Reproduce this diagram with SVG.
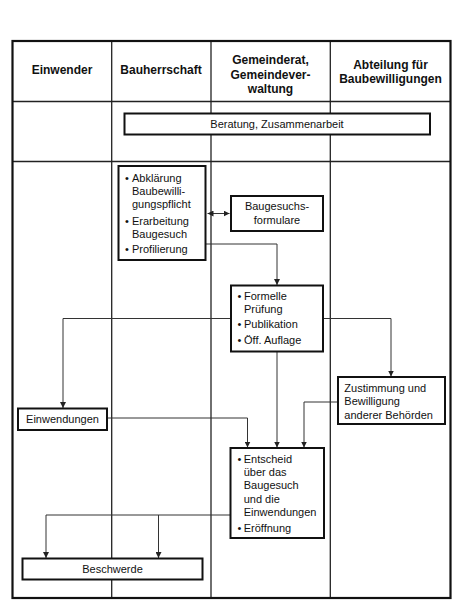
<svg xmlns="http://www.w3.org/2000/svg" width="462" height="616" viewBox="0 0 462 616">
<style>
text{font-family:"Liberation Sans",Arial,sans-serif;font-size:11px;fill:#111}
.h{font-weight:bold;font-size:12px;text-anchor:middle}
.c{text-anchor:middle}
.box{fill:#fff;stroke:#111;stroke-width:2}
.grid{stroke:#222;stroke-width:1.3;fill:none}
.con{fill:none;stroke:#333;stroke-width:1}
</style>
<defs>
<marker id="ah" markerWidth="6" markerHeight="6" refX="6" refY="3" orient="auto-start-reverse" markerUnits="userSpaceOnUse">
<path d="M0,0 L6,3 L0,6 z" fill="#222"/>
</marker>
</defs>
<rect width="462" height="616" fill="#fff"/>
<g id="grid">
<line class="grid" x1="12.5" y1="101.5" x2="450.5" y2="101.5"/>
<line class="grid" x1="12.5" y1="161.5" x2="450.5" y2="161.5"/>
<line class="grid" x1="111.7" y1="41" x2="111.7" y2="598"/>
<line class="grid" x1="211" y1="41" x2="211" y2="598" stroke-width="2"/>
<line class="grid" x1="330.3" y1="41" x2="330.3" y2="598"/>
<rect x="12.5" y="41" width="438" height="557" fill="none" stroke="#111" stroke-width="2.2"/>
<text class="h" x="62" y="74">Einwender</text>
<text class="h" x="161" y="74">Bauherrschaft</text>
<text class="h" x="270.5" y="64">Gemeinderat,</text>
<text class="h" x="270.5" y="78.5">Gemeindever-</text>
<text class="h" x="270.5" y="93">waltung</text>
<text class="h" x="390.5" y="69">Abteilung für</text>
<text class="h" x="390.5" y="83">Baubewilligungen</text>
</g>
<g id="connectors">
<path class="con" d="M207.5 213.5 H229.5" marker-start="url(#ah)" marker-end="url(#ah)"/>
<path class="con" d="M206 244 H277 V285" marker-end="url(#ah)"/>
<path class="con" d="M231 318.5 H63 V408" marker-end="url(#ah)"/>
<path class="con" d="M323 318.5 H391 V376.5" marker-end="url(#ah)"/>
<path class="con" d="M277 352 V447.5" marker-end="url(#ah)"/>
<path class="con" d="M107 418 H247.5 V447.5" marker-end="url(#ah)"/>
<path class="con" d="M338 402 H304 V447.5" marker-end="url(#ah)"/>
<path class="con" d="M230.5 515 H46 V558" marker-end="url(#ah)"/>
<path class="con" d="M158.5 515 V558" marker-end="url(#ah)"/>
</g>
<g id="beratung">
<rect class="box" x="124.5" y="113.5" width="305.5" height="21"/>
<text class="c" x="277" y="127.8">Beratung, Zusammenarbeit</text>
</g>
<g id="abklaerung">
<rect class="box" x="118.5" y="166" width="87" height="94"/>
<text x="125" y="182">•</text><text x="132" y="182">Abklärung</text>
<text x="132" y="195">Baubewilli-</text>
<text x="132" y="208">gungspflicht</text>
<text x="125" y="224.5">•</text><text x="132" y="224.5">Erarbeitung</text>
<text x="132" y="237.5">Baugesuch</text>
<text x="125" y="253">•</text><text x="132" y="253">Profilierung</text>
</g>
<g id="formulare">
<rect class="box" x="231" y="196" width="92" height="35"/>
<text class="c" x="277" y="210">Baugesuchs-</text>
<text class="c" x="277" y="224">formulare</text>
</g>
<g id="pruefung">
<rect class="box" x="231" y="285.5" width="92" height="66"/>
<text x="237.5" y="299.5">•</text><text x="244" y="299.5">Formelle</text>
<text x="244" y="313.3">Prüfung</text>
<text x="237.5" y="328.3">•</text><text x="244" y="328.3">Publikation</text>
<text x="237.5" y="344.3">•</text><text x="244" y="344.3">Öff. Auflage</text>
</g>
<g id="zustimmung">
<rect class="box" x="338" y="377" width="107" height="47"/>
<text x="344.3" y="391.5">Zustimmung und</text>
<text x="344.3" y="405">Bewilligung</text>
<text x="344.3" y="418.5">anderer Behörden</text>
</g>
<g id="einwendungen">
<rect class="box" x="18" y="408.5" width="89" height="21.5"/>
<text class="c" x="62.5" y="423.3">Einwendungen</text>
</g>
<g id="entscheid">
<rect class="box" x="230.5" y="448" width="93.5" height="90"/>
<text x="237.5" y="462.7">•</text><text x="243.7" y="462.7">Entscheid</text>
<text x="243.7" y="476">über das</text>
<text x="243.7" y="489.3">Baugesuch</text>
<text x="243.7" y="502.7">und die</text>
<text x="243.7" y="516">Einwendungen</text>
<text x="237.5" y="532">•</text><text x="243.7" y="532">Eröffnung</text>
</g>
<g id="beschwerde">
<rect class="box" x="22.5" y="558.5" width="180" height="21"/>
<text class="c" x="112.5" y="573">Beschwerde</text>
</g>
</svg>
